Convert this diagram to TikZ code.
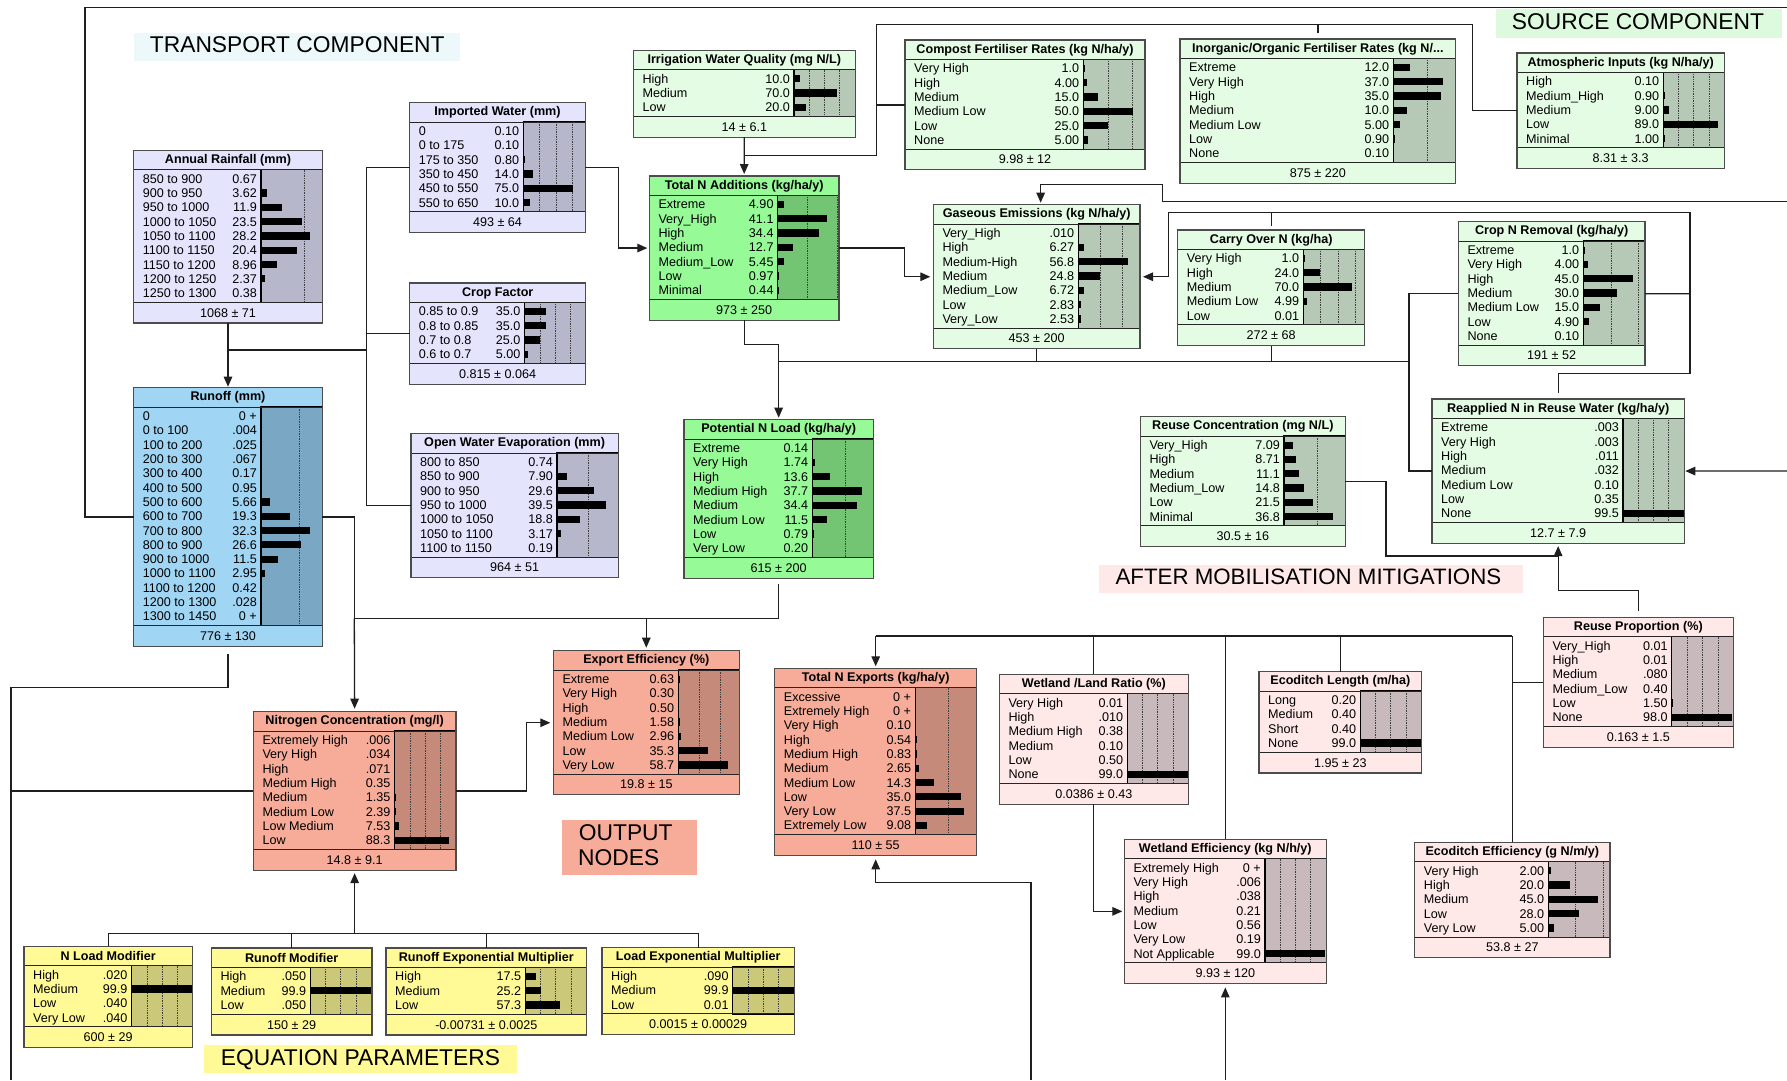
\documentclass[tikz,border=0pt]{standalone}
\usepackage{fontspec}
\setmainfont{Liberation Sans}
\usetikzlibrary{arrows.meta,calc}
\definecolor{lavF}{RGB}{228,228,252}\definecolor{lavB}{RGB}{183,183,204}
\definecolor{bluF}{RGB}{160,213,243}\definecolor{bluB}{RGB}{122,168,196}
\definecolor{bgrF}{RGB}{150,250,150}\definecolor{bgrB}{RGB}{115,196,115}
\definecolor{lgrF}{RGB}{228,252,228}\definecolor{lgrB}{RGB}{182,200,182}
\definecolor{salF}{RGB}{246,172,152}\definecolor{salB}{RGB}{198,138,122}
\definecolor{pnkF}{RGB}{254,232,232}\definecolor{pnkB}{RGB}{200,186,188}
\definecolor{yelF}{RGB}{255,250,150}\definecolor{yelB}{RGB}{204,200,122}
\definecolor{tcbg}{RGB}{237,248,250}
\definecolor{scbg}{RGB}{222,250,222}
\tikzset{
  rowtext/.style={inner sep=0pt,font=\fontsize{12.6}{14}\selectfont},
  titletext/.style={inner sep=0pt,font=\bfseries\fontsize{12.6}{14}\selectfont},
  foottext/.style={inner sep=0pt,font=\fontsize{12.6}{14}\selectfont},
  bigtext/.style={inner sep=0pt,font=\fontsize{22.8}{26}\selectfont},
  boxborder/.style={draw=black!70,line width=1.2pt},
  conn/.style={draw=black!88,line width=1.3pt},
  arr/.style={conn,-{Triangle[length=10pt,width=8.5pt]}}
}
% \bnode{name}{x}{y}{w}{barleft}{scale}{scheme}{title}{footer}{rows}
\newcommand\bnode[9]{%
  \def\bnN{#1}\def\bnX{#2}\def\bnY{#3}\def\bnW{#4}\def\bnB{#5}\def\bnS{#6}%
  \def\bnCF{#7F}\def\bnCB{#7B}\def\bnT{#8}\def\bnF{#9}%
  \bnodeRows}
\newcommand\bnodeRows[1]{%
  \foreach \rl/\rv/\rp [count=\rk] in {#1} {\xdef\bnNN{\rk}}%
  \pgfmathsetmacro\bnTB{\bnY+19.3}%
  \pgfmathsetmacro\bnBB{\bnTB+14.3*\bnNN+4}%
  \pgfmathsetmacro\bnFB{\bnBB+20.7}%
  \pgfmathsetmacro\bnXR{\bnX+\bnW}%
  \pgfmathsetmacro\bnH{\bnFB-\bnY}%
  \node[inner sep=0pt,outer sep=0pt,minimum width=\bnW pt,minimum height=\bnH pt,anchor=north west] (\bnN) at (\bnX,\bnY) {};
  \fill[fill=\bnCF] (\bnX,\bnY) rectangle (\bnXR,\bnFB);
  \fill[fill=\bnCB] (\bnB,\bnTB) rectangle (\bnXR,\bnBB);
  \begin{scope}
    \clip (\bnB,\bnTB) rectangle (\bnXR,\bnBB);
    \foreach \q in {25,50,75} {\draw[densely dotted,line width=0.7pt,black!75] (\bnB+\q*\bnS,\bnTB) -- (\bnB+\q*\bnS,\bnBB);}
    \foreach \rl/\rv/\rp [count=\rk] in {#1} {%
      \pgfmathsetmacro\bnYC{\bnTB+2+14.3*(\rk-0.5)}%
      \pgfmathsetmacro\bnBW{(\rp*\bnS<0.5) ? 0 : max(\rp*\bnS,1.3)}%
      \fill[black] (\bnB,\bnYC-3.6) rectangle (\bnB+\bnBW,\bnYC+3.6);}
  \end{scope}
  \foreach \rl/\rv/\rp [count=\rk] in {#1} {%
    \pgfmathsetmacro\bnYC{\bnTB+2+14.3*(\rk-0.5)}%
    \node[rowtext,anchor=base west] at (\bnX+9,\bnYC+4.5) {\rl};
    \node[rowtext,anchor=base east] at (\bnB-4,\bnYC+4.5) {\rv};}
  \draw[black,line width=1.2pt] (\bnB,\bnTB) rectangle (\bnXR,\bnBB);
  \draw[black!85,line width=1pt] (\bnX,\bnTB) -- (\bnXR,\bnTB);
  \draw[black!85,line width=1pt] (\bnX,\bnBB) -- (\bnXR,\bnBB);
  \draw[boxborder] (\bnX,\bnY) rectangle (\bnXR,\bnFB);
  \node[titletext] at (\bnX+0.5*\bnW,\bnY+9.9) {\bnT};
  \node[foottext] at (\bnX+0.5*\bnW,\bnBB+10.5) {\bnF};
}
\begin{document}
\begin{tikzpicture}[x=1pt,y=-1pt]
\useasboundingbox (0,0) rectangle (1787,1080);
\fill[white] (0,0) rectangle (1787,1080);

% ---------- group labels ----------
\fill[tcbg] (133.7,32.7) rectangle (460,61);
\node[bigtext,anchor=base west] (lblT) at (149.7,52.3) {TRANSPORT COMPONENT};
\fill[scbg] (1495.7,9.3) rectangle (1781.7,38.3);
\node[bigtext,anchor=base west] (lblS) at (1511.7,29.3) {SOURCE COMPONENT};
\fill[pnkF] (1099,565) rectangle (1523.3,592.7);
\node[bigtext,font=\fontsize{22.3}{25}\selectfont,anchor=base west] (lblA) at (1115.3,584.3) {AFTER MOBILISATION MITIGATIONS};
\fill[salF] (562.3,820.3) rectangle (696.7,875);
\node[bigtext,anchor=base west] (lblO1) at (578.7,840) {OUTPUT};
\node[bigtext,anchor=base west] (lblO2) at (578,865) {NODES};
\fill[yelF] (204,1045) rectangle (516.7,1073.3);
\node[bigtext,anchor=base west] (lblE) at (220.7,1065) {EQUATION PARAMETERS};

% ---------- nodes ----------
\bnode{rain}{133.7}{150.3}{188.6}{261}{1.74}{lav}{Annual Rainfall (mm)}{1068 ± 71}
{850 to 900/0.67/0.67, 900 to 950/3.62/3.62, 950 to 1000/11.9/11.9, 1000 to 1050/23.5/23.5, 1050 to 1100/28.2/28.2, 1100 to 1150/20.4/20.4, 1150 to 1200/8.96/8.96, 1200 to 1250/2.37/2.37, 1250 to 1300/0.38/0.38}

\bnode{impw}{409.7}{102.7}{175.6}{523.3}{0.66}{lav}{Imported Water (mm)}{493 ± 64}
{0/0.10/0.1, 0 to 175/0.10/0.1, 175 to 350/0.80/0.8, 350 to 450/14.0/14, 450 to 550/75.0/75, 550 to 650/10.0/10}

\bnode{cropf}{409.7}{283}{176}{524.7}{0.61}{lav}{Crop Factor}{0.815 ± 0.064}
{0.85 to 0.9/35.0/35, 0.8 to 0.85/35.0/35, 0.7 to 0.8/25.0/25, 0.6 to 0.7/5.00/5}

\bnode{owe}{411}{433.7}{207.3}{557}{1.24}{lav}{Open Water Evaporation (mm)}{964 ± 51}
{800 to 850/0.74/0.74, 850 to 900/7.90/7.9, 900 to 950/29.6/29.6, 950 to 1000/39.5/39.5, 1000 to 1050/18.8/18.8, 1050 to 1100/3.17/3.17, 1100 to 1150/0.19/0.19}

\bnode{runoff}{133.7}{387.7}{188.6}{261}{1.52}{blu}{Runoff (mm)}{776 ± 130}
{0/0 +/0, 0 to 100/.004/0.004, 100 to 200/.025/0.025, 200 to 300/.067/0.067, 300 to 400/0.17/0.17, 400 to 500/0.95/0.95, 500 to 600/5.66/5.66, 600 to 700/19.3/19.3, 700 to 800/32.3/32.3, 800 to 900/26.6/26.6, 900 to 1000/11.5/11.5, 1000 to 1100/2.95/2.95, 1100 to 1200/0.42/0.42, 1200 to 1300/.028/0.028, 1300 to 1450/0 +/0}

\bnode{iwq}{633.3}{50.3}{222}{794}{0.61}{lgr}{Irrigation Water Quality (mg N/L)}{14 ± 6.1}
{High/10.0/10, Medium/70.0/70, Low/20.0/20}

\bnode{tna}{649.3}{176}{189.7}{777.7}{1.19}{bgr}{Total N Additions (kg/ha/y)}{973 ± 250}
{Extreme/4.90/4.9, Very\_High/41.1/41.1, High/34.4/34.4, Medium/12.7/12.7, Medium\_Low/5.45/5.45, Low/0.97/0.97, Minimal/0.44/0.44}

\bnode{compost}{905}{40}{240}{1083.3}{0.99}{lgr}{Compost Fertiliser Rates (kg N/ha/y)}{9.98 ± 12}
{Very High/1.0/1, High/4.00/4, Medium/15.0/15, Medium Low/50.0/50, Low/25.0/25, None/5.00/5}

\bnode{inorg}{1180}{39}{275.7}{1393.3}{1.35}{lgr}{Inorganic/Organic Fertiliser Rates (kg N/...}{875 ± 220}
{Extreme/12.0/12, Very High/37.0/37, High/35.0/35, Medium/10.0/10, Medium Low/5.00/5, Low/0.90/0.9, None/0.10/0.1}

\bnode{atmos}{1517}{53}{207.3}{1663.3}{0.61}{lgr}{Atmospheric Inputs (kg N/ha/y)}{8.31 ± 3.3}
{High/0.10/0.1, Medium\_High/0.90/0.9, Medium/9.00/9, Low/89.0/89, Minimal/1.00/1}

\bnode{gas}{933.3}{204.7}{206.7}{1078.3}{0.88}{lgr}{Gaseous Emissions (kg N/ha/y)}{453 ± 200}
{Very\_High/.010/0.01, High/6.27/6.27, Medium-High/56.8/56.8, Medium/24.8/24.8, Medium\_Low/6.72/6.72, Low/2.83/2.83, Very\_Low/2.53/2.53}

\bnode{carry}{1177.7}{230}{187}{1303.3}{0.70}{lgr}{Carry Over N (kg/ha)}{272 ± 68}
{Very High/1.0/1, High/24.0/24, Medium/70.0/70, Medium Low/4.99/4.99, Low/0.01/0.01}

\bnode{cropn}{1458.3}{221.7}{186.7}{1583.3}{1.11}{lgr}{Crop N Removal (kg/ha/y)}{191 ± 52}
{Extreme/1.0/1, Very High/4.00/4, High/45.0/45, Medium/30.0/30, Medium Low/15.0/15, Low/4.90/4.9, None/0.10/0.1}

\bnode{pnl}{684}{419.7}{189.3}{812.3}{1.31}{bgr}{Potential N Load (kg/ha/y)}{615 ± 200}
{Extreme/0.14/0.14, Very High/1.74/1.74, High/13.6/13.6, Medium High/37.7/37.7, Medium/34.4/34.4, Medium Low/11.5/11.5, Low/0.79/0.79, Very Low/0.20/0.2}

\bnode{reusec}{1140.3}{416.7}{205}{1284}{1.33}{lgr}{Reuse Concentration (mg N/L)}{30.5 ± 16}
{Very\_High/7.09/7.09, High/8.71/8.71, Medium/11.1/11.1, Medium\_Low/14.8/14.8, Low/21.5/21.5, Minimal/36.8/36.8}

\bnode{reapp}{1432}{399}{252.3}{1623}{0.61}{lgr}{Reapplied N in Reuse Water (kg/ha/y)}{12.7 ± 7.9}
{Extreme/.003/0.003, Very High/.003/0.003, High/.011/0.011, Medium/.032/0.032, Medium Low/0.10/0.1, Low/0.35/0.35, None/99.5/99.5}

\bnode{reusep}{1543.3}{617.3}{190}{1671.7}{0.615}{pnk}{Reuse Proportion (\%)}{0.163 ± 1.5}
{Very\_High/0.01/0.01, High/0.01/0.01, Medium/.080/0.08, Medium\_Low/0.40/0.4, Low/1.50/1.5, None/98.0/98}

\bnode{expeff}{553.3}{650.7}{186}{678.3}{0.84}{sal}{Export Efficiency (\%)}{19.8 ± 15}
{Extreme/0.63/0.63, Very High/0.30/0.3, High/0.50/0.5, Medium/1.58/1.58, Medium Low/2.96/2.96, Low/35.3/35.3, Very Low/58.7/58.7}

\bnode{tne}{774.7}{668.3}{202}{915.3}{1.31}{sal}{Total N Exports (kg/ha/y)}{110 ± 55}
{Excessive/0 +/0, Extremely High/0 +/0, Very High/0.10/0.1, High/0.54/0.54, Medium High/0.83/0.83, Medium/2.65/2.65, Medium Low/14.3/14.3, Low/35.0/35, Very Low/37.5/37.5, Extremely Low/9.08/9.08}

\bnode{nconc}{253.3}{711.7}{202.7}{394.7}{0.61}{sal}{Nitrogen Concentration (mg/l)}{14.8 ± 9.1}
{Extremely High/.006/0.006, Very High/.034/0.034, High/.071/0.071, Medium High/0.35/0.35, Medium/1.35/1.35, Medium Low/2.39/2.39, Low Medium/7.53/7.53, Low/88.3/88.3}

\bnode{wlr}{999.3}{674.3}{189}{1127.3}{0.61}{pnk}{Wetland /Land Ratio (\%)}{0.0386 ± 0.43}
{Very High/0.01/0.01, High/.010/0.01, Medium High/0.38/0.38, Medium/0.10/0.1, Low/0.50/0.5, None/99.0/99}

\bnode{edl}{1259}{671.7}{162.7}{1360.3}{0.61}{pnk}{Ecoditch Length (m/ha)}{1.95 ± 23}
{Long/0.20/0.2, Medium/0.40/0.4, Short/0.40/0.4, None/99.0/99}

\bnode{weff}{1124.3}{839.3}{202}{1265}{0.61}{pnk}{Wetland Efficiency (kg N/h/y)}{9.93 ± 120}
{Extremely High/0 +/0, Very High/.006/0.006, High/.038/0.038, Medium/0.21/0.21, Low/0.56/0.56, Very Low/0.19/0.19, Not Applicable/99.0/99}

\bnode{edeff}{1414.7}{842.3}{195.3}{1548.3}{1.1}{pnk}{Ecoditch Efficiency (g N/m/y)}{53.8 ± 27}
{Very High/2.00/2, High/20.0/20, Medium/45.0/45, Low/28.0/28, Very Low/5.00/5}

\bnode{nlm}{24}{946.3}{168.3}{131.7}{0.61}{yel}{N Load Modifier}{600 ± 29}
{High/.020/0.02, Medium/99.9/99.9, Low/.040/0.04, Very Low/.040/0.04}

\bnode{rom}{211.3}{948}{160.7}{310.3}{0.61}{yel}{Runoff Modifier}{150 ± 29}
{High/.050/0.05, Medium/99.9/99.9, Low/.050/0.05}

\bnode{rem}{386}{948}{200.7}{525.3}{0.61}{yel}{Runoff Exponential Multiplier}{-0.00731 ± 0.0025}
{High/17.5/17.5, Medium/25.2/25.2, Low/57.3/57.3}

\bnode{lem}{602}{947.7}{192.3}{732.7}{0.61}{yel}{Load Exponential Multiplier}{0.0015 ± 0.00029}
{High/.090/0.09, Medium/99.9/99.9, Low/0.01/0.01}

% ---------- junctions and free ends ----------
\coordinate (offTR) at (1787,7.3);
\coordinate (jR) at (228,350);
\coordinate (tx) at (366.7,350);
\coordinate (jT) at (744.2,155.7);
\coordinate (bus1) at (876.7,24.3);
\coordinate (jg) at (904.3,0);
\coordinate (jP) at (778.65,361.7);
\coordinate (jC) at (1409,361.7);
\coordinate (jK) at (1690,293.7);
\coordinate (jK2) at (1168.3,212.7);
\coordinate (offR1) at (1787,201.7);
\coordinate (offR2) at (1787,471);
\coordinate (jU) at (1558.15,556);
\coordinate (jN) at (354.3,618.7);
\coordinate (jE) at (646.3,618.7);
\coordinate (jL) at (11,687.7);
\coordinate (offB1) at (11,1080);
\coordinate (jQ) at (354.65,933.3);
\coordinate (jX) at (875.7,636);
\coordinate (offB2) at (1225.3,1080);
\coordinate (offB3) at (1031,1080);

% ---------- connectors ----------
\draw[conn] (runoff.west) -| (85,7.3) -- (offTR);
\draw[conn] (rain.south) -- (jR);
\draw[arr,shorten >=1pt] (jR) -- (runoff.north);
\draw[conn] (impw.west) -| (tx);
\draw[conn] (owe.west) -| (tx);
\draw[conn] (cropf.west) -- (cropf.west -| tx);
\draw[conn] (tx) -- (jR);
\draw[arr,shorten >=2pt] (impw.east) -- ++(33,0) |- (tna.west);
\draw[conn] (iwq.south) -- (jT);
\draw[arr,shorten >=2pt] (jT) -- (tna.north);
\draw[conn] (atmos.west) -| (1472.3,24.3) -- (bus1) |- (jT);
\draw[conn] (compost.west) -- (compost.west -| bus1);
\draw[conn,shorten <=6pt] (inorg.north) -- (inorg.north |- bus1);
\draw[arr,shorten >=3pt] (tna.east) -- (tna.east -| jg) |- (gas.west);
\draw[conn] (tna.south) -- ++(0,24.3) -| (jP);
\draw[arr,shorten >=2pt] (jP) -- (pnl.north);
\draw[conn] (jP) -- (jC);
\draw[conn] (gas.south) -- (gas.south |- jP);
\draw[conn] (carry.south) -- (carry.south |- jP);
\draw[conn] (cropn.west) -| (jC);
\draw[conn] (reapp.west) -| (jC);
\draw[conn] (cropn.east) -- (jK);
\draw[arr,shorten >=3pt] (jK) |- (jK2) |- (gas.east);
\draw[conn,shorten <=4pt] (carry.north) -- (carry.north |- jK2);
\draw[conn,shorten >=6pt] (jK) |- (1558.15,373.3) -- (reapp.north);
\draw[arr,shorten >=2pt] (offR1) -| (1162.7,184.3) -| ([xshift=4pt]gas.north);
\draw[arr,shorten >=1pt] (offR2) -- (reapp.east);
\draw[conn] (reusec.east) -| (1386,556) -- (jU);
\draw[arr,shorten >=3pt] (jU) -- (reapp.south);
\draw[conn,shorten <=6pt] (reusep.north) |- (1558.15,590.7) -- (jU);
\draw[conn] (runoff.east) -| (jN);
\draw[arr,shorten >=3pt] (jN) -- (nconc.north);
\draw[conn,shorten <=6pt] (pnl.south) |- (jN);
\draw[arr,shorten >=3pt] (jE) -- (expeff.north);
\draw[arr,shorten >=3pt] (nconc.east) -- ++(70.7,0) |- (expeff.west);
\draw[conn,shorten <=8pt] (runoff.south) |- (jL) -- (offB1);
\draw[conn] (nconc.west) -- (nconc.west -| offB1);
\draw[arr,shorten >=3pt] (jQ) -- (nconc.south);
\draw[conn] (nlm.north) |- (lem.north |- jQ) -- (lem.north);
\draw[conn] (rom.north) -- (rom.north |- jQ);
\draw[conn] (rem.north) -- (rem.north |- jQ);
\draw[arr,shorten >=2pt] (jX) -- (tne.north);
\draw[conn] (jX) -- (jX -| edeff.north);
\draw[conn] (edeff.north) -- (edeff.north |- jX);
\draw[conn] (wlr.north) -- (wlr.north |- jX);
\draw[conn] (weff.north) -- (weff.north |- jX);
\draw[conn] (edl.north) -- (edl.north |- jX);
\draw[conn] (reusep.west) -- (reusep.west -| edeff.north);
\draw[arr,shorten >=2pt] (wlr.south) |- (weff.west);
\draw[arr,shorten >=4pt] (offB2) -- (weff.south);
\draw[arr,shorten >=4pt] (offB3) |- (875.7,882.3) -- (tne.south);
\end{tikzpicture}
\end{document}
